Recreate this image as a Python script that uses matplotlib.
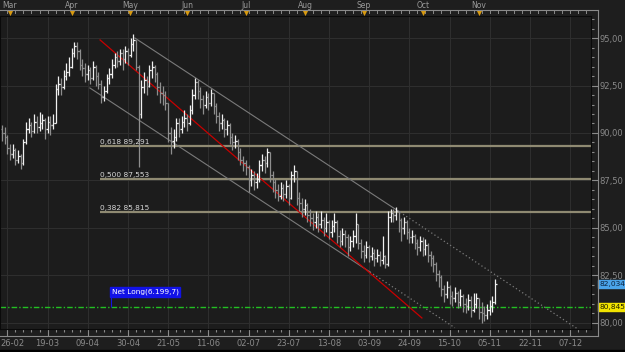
import numpy as np
import matplotlib
matplotlib.use('Agg')
import matplotlib.pyplot as plt
from matplotlib import transforms
from matplotlib.patches import Rectangle

# daily bars, index 0 = first visible bar (22-02)
first_open = 90.2
closes = [
    90.0, 89.8, 89.2, 88.9, 89.1, 88.6, 88.8, 88.4, 89.5, 90.2,
    90.4, 90.1, 90.6, 90.3, 90.5, 90.7, 90.2, 90.6, 90.4, 90.5,
    92.3, 92.6, 92.4, 93.0, 93.2, 93.5, 94.2, 94.6, 94.3, 93.6,
    93.4, 93.1, 93.3, 92.9, 93.5, 93.0, 92.6, 91.9, 92.2, 92.9,
    93.1, 93.6, 94.0, 93.8, 94.2, 93.9, 94.3, 94.1, 94.7, 94.9,
    93.5, 91.0, 92.4, 92.8, 92.5, 93.3, 93.5, 93.1, 92.4, 92.1,
    92.0, 91.6, 90.0, 89.6, 89.8, 90.5, 90.2, 90.6, 90.8, 90.5,
    91.2, 92.0, 92.7, 92.2, 91.8, 91.5, 91.9, 91.6, 92.1, 91.4,
    90.9, 90.5, 90.7, 90.2, 90.4, 89.8, 89.5, 89.6, 89.0, 88.6,
    88.4, 88.2, 87.5, 87.8, 87.4, 87.6, 88.3, 88.6, 88.4, 89.0,
    87.8, 87.4, 87.0, 86.7, 87.1, 86.8, 87.2, 86.6, 87.8, 88.0,
    86.6, 86.3, 86.0, 86.2, 85.7, 85.5, 85.3, 85.6, 85.2, 85.4,
    85.0, 85.3, 84.8, 85.1, 85.3, 84.6, 84.3, 84.7, 84.5, 84.0,
    84.3, 84.6, 85.2, 84.2, 83.8, 83.6, 84.0, 83.5, 83.7, 83.4,
    83.6, 83.3, 83.5, 83.1, 85.6, 85.8, 85.7, 85.9, 85.4, 85.0,
    85.3, 84.8, 84.5, 84.6, 84.2, 84.0, 84.3, 83.9, 84.1, 83.6,
    83.4, 83.1, 82.6, 82.4, 81.8, 81.5, 81.9, 81.4, 81.3, 81.6,
    81.1, 81.4, 81.0, 80.9, 81.2, 80.7, 81.0, 81.3, 80.6, 80.5,
    80.4, 80.7, 80.9, 81.1, 82.034]
highs = [
    90.4, 90.3, 89.9, 89.4, 89.4, 89.2, 89.1, 88.9, 89.7, 90.6,
    90.8, 90.6, 91.0, 90.9, 91.1, 91.0, 90.8, 90.9, 90.9, 91.0,
    92.6, 93.0, 92.9, 93.3, 93.7, 94.0, 94.5, 94.8, 94.8, 94.4,
    93.9, 93.7, 93.6, 93.5, 93.8, 93.6, 93.2, 92.8, 92.5, 93.1,
    93.4, 93.9, 94.2, 94.3, 94.4, 94.4, 94.6, 94.5, 95.0, 95.2,
    94.9, 93.6, 92.8, 93.2, 93.0, 93.6, 93.8, 93.6, 93.2, 92.7,
    92.5, 92.2, 91.6, 90.3, 90.2, 90.8, 90.8, 90.9, 91.2, 91.0,
    91.5, 92.3, 92.9, 92.8, 92.4, 92.0, 92.2, 92.1, 92.3, 92.1,
    91.6, 91.1, 91.0, 90.8, 90.7, 90.5, 90.0, 89.9, 89.7, 89.2,
    88.8, 88.6, 88.3, 88.1, 88.0, 87.9, 88.6, 88.9, 88.8, 89.2,
    89.0, 88.0, 87.6, 87.3, 87.4, 87.3, 87.5, 87.3, 88.0, 88.3,
    88.0, 86.9, 86.6, 86.5, 86.3, 86.0, 85.8, 85.9, 85.8, 85.9,
    85.6, 85.8, 85.4, 85.4, 85.8, 85.4, 84.9, 85.0, 84.9, 84.7,
    84.6, 84.9, 85.8, 85.2, 84.4, 84.1, 84.3, 84.1, 84.0, 83.9,
    83.9, 83.8, 84.6, 83.6, 85.9, 86.0, 86.0, 86.1, 85.9, 85.5,
    85.6, 85.4, 85.0, 84.9, 84.7, 84.4, 84.6, 84.5, 84.4, 84.2,
    83.8, 83.6, 83.2, 82.8, 82.5, 82.0, 82.2, 82.0, 81.7, 81.9,
    81.7, 81.8, 81.5, 81.3, 81.5, 81.4, 81.6, 81.6, 81.3, 81.1,
    80.9, 81.0, 81.2, 81.4, 82.3]
lows = [
    89.6, 89.4, 88.9, 88.6, 88.7, 88.3, 88.4, 88.1, 88.3, 89.4,
    90.0, 89.8, 90.0, 90.0, 90.1, 90.2, 89.7, 90.0, 89.9, 90.2,
    90.5, 92.0, 92.0, 92.3, 92.8, 93.0, 93.4, 94.0, 93.9, 93.3,
    93.0, 92.7, 92.8, 92.6, 92.8, 92.5, 92.3, 91.6, 91.7, 92.1,
    92.6, 92.9, 93.4, 93.5, 93.6, 93.3, 93.7, 93.6, 94.0, 94.3,
    93.3, 88.2, 90.8, 92.1, 92.0, 92.4, 92.9, 92.7, 92.0, 91.6,
    91.5, 91.2, 89.5, 88.9, 89.2, 89.6, 89.8, 90.0, 90.3, 90.1,
    90.4, 91.0, 91.8, 91.8, 91.3, 91.0, 91.3, 91.2, 91.4, 91.0,
    90.5, 90.1, 90.2, 89.8, 89.9, 89.4, 89.1, 89.2, 88.6, 88.3,
    88.0, 87.8, 86.9, 87.2, 87.0, 87.1, 87.4, 88.0, 87.9, 88.2,
    87.4, 86.9, 86.6, 86.4, 86.5, 86.4, 86.6, 86.2, 86.5, 87.4,
    86.2, 85.9, 85.6, 85.7, 85.3, 85.1, 84.9, 85.0, 84.8, 85.0,
    84.6, 84.8, 84.4, 84.5, 84.8, 84.2, 84.0, 84.1, 84.0, 83.5,
    83.8, 84.0, 84.2, 83.9, 83.4, 83.2, 83.4, 83.2, 83.3, 83.0,
    83.2, 83.0, 83.1, 82.9, 83.0, 85.3, 85.3, 85.4, 84.8, 84.3,
    84.7, 84.4, 84.2, 84.2, 83.9, 83.6, 83.8, 83.5, 83.6, 83.2,
    83.0, 82.7, 82.2, 81.9, 81.4, 81.1, 81.3, 81.0, 80.9, 81.1,
    80.8, 80.9, 80.6, 80.5, 80.7, 80.3, 80.6, 80.8, 80.2, 80.0,
    80.1, 80.2, 80.4, 80.6, 81.0]

date_labels = ['26-02', '19-03', '09-04', '30-04', '21-05', '11-06', '02-07', '23-07',
               '13-08', '03-09', '24-09', '15-10', '05-11', '22-11', '07-12']
date_pos = [2 + 15 * i for i in range(len(date_labels))]
months = ['Mar', 'Apr', 'May', 'Jun', 'Jul', 'Aug', 'Sep', 'Oct', 'Nov']
month_pos = [3.0, 26.1, 47.8, 69.0, 91.0, 113.1, 135.1, 157.1, 178.0]

fib_ratios = ['0,618', '0,500', '0,382']
fib_levels = [89.291, 87.553, 85.815]
fib_start = 36.6

net_long = 80.845
last_price = 82.034

# trend lines: (start bar, start price, slope per bar, solid end, dotted end)
upper_ch = (49.6, 95.0, -0.0927, 148.5, 215.0)
lower_ch = (32.8, 92.37, -0.0927, 137.3, 169.0)
red_line = (36.6, 94.9, -0.1219, 156.7)

fig = plt.figure(figsize=(6.25, 3.52), dpi=100, facecolor='#1e1e1e')
ax = fig.add_axes([0, 23 / 352, 591 / 625, 313 / 352])
ax.set_facecolor('#1c1c1c')

x = np.arange(len(closes))
c = np.array(closes)
o = np.array([first_open] + closes[:-1])
cols = np.where(c >= o, '#f0f0f0', '#8e8e8e')
ax.vlines(x, lows, highs, colors=cols, lw=0.9, zorder=3)
ax.hlines(o, x - 0.55, x, colors=cols, lw=0.9, zorder=3)
ax.hlines(c, x, x + 0.55, colors=cols, lw=0.9, zorder=3)

ax.set_xlim(-0.75, 219.8)
ax.set_ylim(79.68, 96.16)

# fibonacci retracement
ax.hlines(fib_levels, fib_start, 219.8, color='#8f8a72', lw=1.6, zorder=2)
for r, lv in zip(fib_ratios, fib_levels):
    ax.text(fib_start, lv + 0.08, r + ' ' + f'{lv:.3f}'.replace('.', ','),
            color='#d8d8d8', fontsize=5.3, va='bottom', ha='left', zorder=4)

# channel
for x0, y0, s, xs, xe in [upper_ch, lower_ch]:
    ax.plot([x0, xs], [y0, y0 + s * (xs - x0)], color='#7a7a7a', lw=0.8, zorder=2)
    ax.plot([xs, xe], [y0 + s * (xs - x0), y0 + s * (xe - x0)], color='#7a7a7a',
            lw=0.9, ls=(0, (1, 2)), zorder=2)
x0, y0, s, xe = red_line
ax.plot([x0, xe], [y0, y0 + s * (xe - x0)], color='#c80000', lw=0.9, zorder=2)

# net long position
ax.axhline(net_long, color='#22c022', lw=1, ls=(0, (4, 1.5, 1, 1.5)), zorder=2)
ax.vlines(40.7, net_long, 81.37, color='#1414e0', lw=0.8, zorder=4)
ax.text(40.9, 81.47, 'Net Long(6.199,7)', color='white', fontsize=5.3,
        va='bottom', ha='left', zorder=5,
        bbox=dict(boxstyle='square,pad=0.25', fc='#1212e6', ec='#1212e6'))

# axes styling
ax.set_xticks(date_pos)
ax.set_xticklabels([''] + date_labels[1:])
bt = transforms.blended_transform_factory(ax.transData, fig.transFigure)
ax.text(-0.7, 9 / 352, date_labels[0], transform=bt, color='#8a8a8a', fontsize=6,
        ha='left', va='center', clip_on=False)
ax.set_xticks(np.arange(2, 220, 3), minor=True)
yt = np.arange(80, 95.1, 2.5)
ax.yaxis.tick_right()
ax.set_yticks(yt)
ax.set_yticklabels([f'{v:.2f}'.replace('.', ',') for v in yt])
ax.set_yticks(np.arange(80, 96.1, 0.5), minor=True)
ax.tick_params(axis='both', which='major', colors='#8a8a8a', labelsize=6, length=5, width=0.8)
ax.tick_params(axis='both', which='minor', colors='#8a8a8a', length=2.5, width=0.8)
ax.tick_params(axis='x', pad=2)
ax.tick_params(axis='y', pad=1)
ax.grid(True, which='major', color='#2e2e2e', lw=0.8, zorder=0)
for sp in ax.spines.values():
    sp.set_color('#0a0a0a')

for lv, txt, fc, tc in [(last_price, '82,034', '#4aa4ea', '#0c2440'),
                        (net_long, '80,845', '#f2e400', '#202000')]:
    ax.text(1.014, lv, txt, transform=transforms.blended_transform_factory(ax.transAxes, ax.transData),
            fontsize=5.4, color=tc, va='center', ha='left', zorder=6, clip_on=False,
            bbox=dict(boxstyle='square,pad=0.12', fc=fc, ec=fc))

# outer frame and top month band
fx = 598 / 625
ytop = 342 / 352
ybot = 16 / 352
for xs_, ys_ in [([0, fx], [ytop, ytop]), ([fx, fx], [ytop, ybot]), ([0, fx], [ybot, ybot])]:
    fig.add_artist(plt.Line2D(xs_, ys_, color='#8a8a8a', lw=0.8, transform=fig.transFigure))
for t in np.arange(2, 220, 3):
    ax.plot([t, t], [ytop, ytop - 3 / 352], color='#8a8a8a', lw=0.7, transform=bt, clip_on=False)
for m, p in zip(months, month_pos):
    ax.text(p, 347 / 352, m, transform=bt, color='#9a9a9a', fontsize=5.5,
            ha='center', va='center', clip_on=False)
ax.scatter(month_pos, [339.5 / 352] * len(month_pos), marker='v', s=14, color='#d89a10',
           transform=bt, clip_on=False, zorder=6, linewidths=0)

fig.patches.append(Rectangle((0, 0), 1, 2 / 352, transform=fig.transFigure, color='black'))

fig.savefig('out.png', dpi=100, facecolor=fig.get_facecolor())
